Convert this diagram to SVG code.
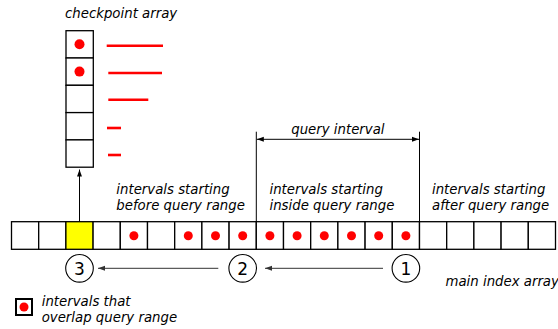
<svg xmlns="http://www.w3.org/2000/svg" width="558" height="329" viewBox="0 0 558 329">
<defs>
<style>
.cell{fill:#fff;stroke:#000;stroke-width:1.3}
.dot{fill:#ff0000}
.t{font-family:"DejaVu Sans",Verdana,sans-serif;font-style:italic;font-size:13.3px;fill:#000}
.num{font-family:"DejaVu Sans",Verdana,sans-serif;font-size:17px;fill:#000;text-anchor:middle}
.con{stroke:#000;stroke-width:1;fill:none}
.gray{stroke:#333;stroke-width:1;fill:none}
.red{stroke:#ff0000;stroke-width:2.6}
</style>
<marker id="ah" viewBox="0 0 10 10" refX="10" refY="5" markerWidth="7" markerHeight="7" markerUnits="userSpaceOnUse" orient="auto-start-reverse">
<path d="M0,1.5 L10,5 L0,8.5 Z" fill="#000"/>
</marker>
<marker id="ahg" viewBox="0 0 10 10" refX="10" refY="5" markerWidth="7" markerHeight="7" markerUnits="userSpaceOnUse" orient="auto">
<path d="M0,1.5 L10,5 L0,8.5 Z" fill="#333"/>
</marker>
</defs>
<rect width="558" height="329" fill="#fff"/>

<g id="checkpoint-array">
<text class="t" x="65" y="17.5">checkpoint array</text>
<rect class="cell" x="66" y="30.7" width="27.3" height="27.3" stroke-width="1.6"/>
<rect class="cell" x="66" y="58" width="27.3" height="27.3" stroke-width="1.6"/>
<rect class="cell" x="66" y="85.3" width="27.3" height="27.3" stroke-width="1.6"/>
<rect class="cell" x="66" y="112.6" width="27.3" height="27.3" stroke-width="1.6"/>
<rect class="cell" x="66" y="139.9" width="27.3" height="27.3" stroke-width="1.6"/>
<circle class="dot" cx="79.5" cy="44.3" r="5"/>
<circle class="dot" cx="79.5" cy="71.6" r="5"/>
<line class="red" x1="106.7" y1="45.7" x2="163" y2="45.7"/>
<line class="red" x1="108.3" y1="73" x2="162" y2="73"/>
<line class="red" x1="108.3" y1="99.7" x2="148.3" y2="99.7"/>
<line class="red" x1="107" y1="128" x2="121" y2="128"/>
<line class="red" x1="108" y1="155" x2="121" y2="155"/>
</g>

<g id="main-index-array">
<rect class="cell" x="11.5" y="221.7" width="27.2" height="27.6"/>
<rect class="cell" x="38.7" y="221.7" width="27.2" height="27.6"/>
<rect class="cell" x="65.9" y="221.7" width="27.2" height="27.6" style="fill:#ffff00"/>
<rect class="cell" x="93.1" y="221.7" width="27.2" height="27.6"/>
<rect class="cell" x="120.3" y="221.7" width="27.2" height="27.6"/>
<rect class="cell" x="147.5" y="221.7" width="27.2" height="27.6"/>
<rect class="cell" x="174.7" y="221.7" width="27.2" height="27.6"/>
<rect class="cell" x="201.9" y="221.7" width="27.2" height="27.6"/>
<rect class="cell" x="229.1" y="221.7" width="27.2" height="27.6"/>
<rect class="cell" x="256.3" y="221.7" width="27.2" height="27.6"/>
<rect class="cell" x="283.5" y="221.7" width="27.2" height="27.6"/>
<rect class="cell" x="310.7" y="221.7" width="27.2" height="27.6"/>
<rect class="cell" x="337.9" y="221.7" width="27.2" height="27.6"/>
<rect class="cell" x="365.1" y="221.7" width="27.2" height="27.6"/>
<rect class="cell" x="392.3" y="221.7" width="27.2" height="27.6"/>
<rect class="cell" x="419.5" y="221.7" width="27.2" height="27.6"/>
<rect class="cell" x="446.7" y="221.7" width="27.2" height="27.6"/>
<rect class="cell" x="473.9" y="221.7" width="27.2" height="27.6"/>
<rect class="cell" x="501.1" y="221.7" width="27.2" height="27.6"/>
<rect class="cell" x="528.3" y="221.7" width="27.2" height="27.6"/>
<circle class="dot" cx="133.9" cy="235.7" r="4.5"/>
<circle class="dot" cx="188.3" cy="235.7" r="4.5"/>
<circle class="dot" cx="215.5" cy="235.7" r="4.5"/>
<circle class="dot" cx="242.7" cy="235.7" r="4.5"/>
<circle class="dot" cx="269.9" cy="235.7" r="4.5"/>
<circle class="dot" cx="297.1" cy="235.7" r="4.5"/>
<circle class="dot" cx="324.3" cy="235.7" r="4.5"/>
<circle class="dot" cx="351.5" cy="235.7" r="4.5"/>
<circle class="dot" cx="378.7" cy="235.7" r="4.5"/>
<circle class="dot" cx="405.9" cy="235.7" r="4.5"/>
<text class="t" x="445.5" y="285.5">main index array</text>
</g>

<g id="query-interval">
<line class="con" x1="256.3" y1="131.7" x2="256.3" y2="221.7"/>
<line class="con" x1="419.5" y1="131.7" x2="419.5" y2="221.7"/>
<text class="t" x="337.9" y="134" text-anchor="middle">query interval</text>
</g>

<g id="label-before">
<text class="t" x="116.3" y="193.5">intervals starting</text>
<text class="t" x="116.3" y="210.2">before query range</text>
</g>
<g id="label-inside">
<text class="t" x="269.5" y="193.5">intervals starting</text>
<text class="t" x="269.5" y="210.2">inside query range</text>
</g>
<g id="label-after">
<text class="t" x="432" y="193.5">intervals starting</text>
<text class="t" x="432" y="210.2">after query range</text>
</g>

<g id="step-1">
<circle cx="405.9" cy="268.3" r="13.8" fill="#fff" stroke="#000" stroke-width="1.1"/>
<text class="num" x="405.9" y="274.5">1</text>
</g>
<g id="step-2">
<circle cx="242.7" cy="268.3" r="13.8" fill="#fff" stroke="#000" stroke-width="1.1"/>
<text class="num" x="242.7" y="274.5">2</text>
</g>
<g id="step-3">
<circle cx="79.5" cy="268.3" r="13.8" fill="#fff" stroke="#000" stroke-width="1.1"/>
<text class="num" x="79.5" y="274.5">3</text>
</g>

<g id="legend">
<rect x="16" y="299" width="16" height="16" fill="#fff" stroke="#000" stroke-width="2"/>
<circle class="dot" cx="24" cy="307" r="4.5"/>
<text class="t" x="41.7" y="306.3">intervals that</text>
<text class="t" x="41.7" y="322.3">overlap query range</text>
</g>

<g id="connectors">
<line class="con" x1="256.8" y1="139.3" x2="419" y2="139.3" marker-start="url(#ah)" marker-end="url(#ah)"/>
<line class="con" x1="79.5" y1="221.7" x2="79.5" y2="169.5" marker-end="url(#ah)"/>
<line class="gray" x1="383" y1="268.3" x2="265" y2="268.3" marker-end="url(#ahg)"/>
<line class="gray" x1="218.3" y1="268.3" x2="98" y2="268.3" marker-end="url(#ahg)"/>
</g>
</svg>
